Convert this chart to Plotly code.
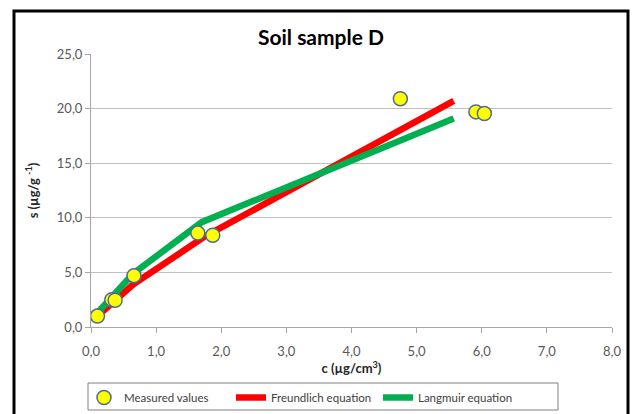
import plotly.graph_objects as go

# Measured data
meas_c = [0.10, 0.32, 0.37, 0.66, 1.64, 1.87, 4.75, 5.91, 6.04]
meas_s = [1.0, 2.5, 2.45, 4.7, 8.6, 8.4, 20.9, 19.7, 19.55]

# Freundlich fit line
freund_c = [0.10, 0.35, 0.65, 1.75, 5.57]
freund_s = [1.0, 2.4, 3.9, 8.3, 20.7]

# Langmuir fit line
lang_c = [0.10, 0.65, 1.70, 5.57]
lang_s = [1.3, 4.9, 9.6, 19.1]

x_ticks = [0, 1, 2, 3, 4, 5, 6, 7, 8]
y_ticks = [0, 5, 10, 15, 20, 25]

FONT = "Lato, 'Open Sans', sans-serif"

L, R, T, B = 91, 25, 54, 87
W, H = 637, 414
pw = W - L - R
ph = H - T - B


def px_x(p):
    return (p - L) / pw


def px_y(p):
    return (H - B - p) / ph


fig = go.Figure()
fig.add_trace(go.Scatter(
    x=freund_c, y=freund_s, mode="lines", name="Freundlich equation",
    line=dict(color="#ff0000", width=6.5), legendrank=2,
))
fig.add_trace(go.Scatter(
    x=lang_c, y=lang_s, mode="lines", name="Langmuir equation",
    line=dict(color="#00b050", width=6.5), legendrank=3,
))
fig.add_trace(go.Scatter(
    x=meas_c, y=meas_s, mode="markers", name="Measured values",
    marker=dict(size=14, color="#ffff00", line=dict(color="#4f6d8f", width=1.5)),
    legendrank=1,
))
# invisible spacer entry so the last legend label is not clipped
fig.add_trace(go.Scatter(
    x=[None], y=[None], mode="lines", name=" ",
    line=dict(color="rgba(0,0,0,0)", width=0), legendrank=4, hoverinfo="skip",
))

# outer chart border
fig.add_shape(type="rect", xref="paper", yref="paper",
              x0=px_x(14), x1=px_x(628), y0=px_y(440), y1=px_y(11),
              line=dict(color="black", width=3), fillcolor="rgba(0,0,0,0)")
# legend box
fig.add_shape(type="rect", xref="paper", yref="paper",
              x0=px_x(88), x1=px_x(558), y0=px_y(410), y1=px_y(383),
              line=dict(color="#808080", width=1), fillcolor="white", layer="below")

fig.update_layout(
    width=W, height=H,
    margin=dict(l=L, r=R, t=T, b=B, autoexpand=False),
    paper_bgcolor="white", plot_bgcolor="rgba(0,0,0,0)",
    separators=", ",
    font=dict(family=FONT, size=13, color="#404040"),
    title=dict(text="<b>Soil sample D</b>", x=px_x(321), xref="paper", xanchor="center",
               y=1 - 38 / H, yanchor="middle",
               font=dict(family=FONT, size=21, color="black")),
    xaxis=dict(range=[0, 8], tickvals=x_ticks, tickformat=".1f",
               showgrid=False, zeroline=False, showline=True, linecolor="#a6a6a6",
               linewidth=1, ticks="outside", ticklen=5, tickcolor="#a6a6a6",
               tickfont=dict(color="#595959", size=13),
               ticklabelstandoff=7,
               automargin=False,
               title=dict(text="<b>c (µg/cm<sup>3</sup>)</b>", standoff=4,
                          font=dict(color="#262626", size=13))),
    yaxis=dict(range=[0, 25], tickvals=y_ticks, tickformat=".1f",
               showgrid=True, gridcolor="#c0c0c0", gridwidth=1,
               zeroline=False, showline=True, linecolor="#a6a6a6",
               linewidth=1, ticks="outside", ticklen=5, tickcolor="#a6a6a6",
               tickfont=dict(color="#595959", size=13),
               automargin=False,
               title=dict(text="<b>s (µg/g <sup>-1</sup>)</b>", standoff=15,
                          font=dict(color="#262626", size=13))),
    legend=dict(orientation="h", x=px_x(84), xanchor="left", y=px_y(383), yanchor="top",
                borderwidth=0, bgcolor="rgba(0,0,0,0)",
                font=dict(family=FONT, size=11.5, color="#404040"),
                traceorder="normal", entrywidth=102, entrywidthmode="pixels"),
    showlegend=True,
)

fig.write_html("out.html")
